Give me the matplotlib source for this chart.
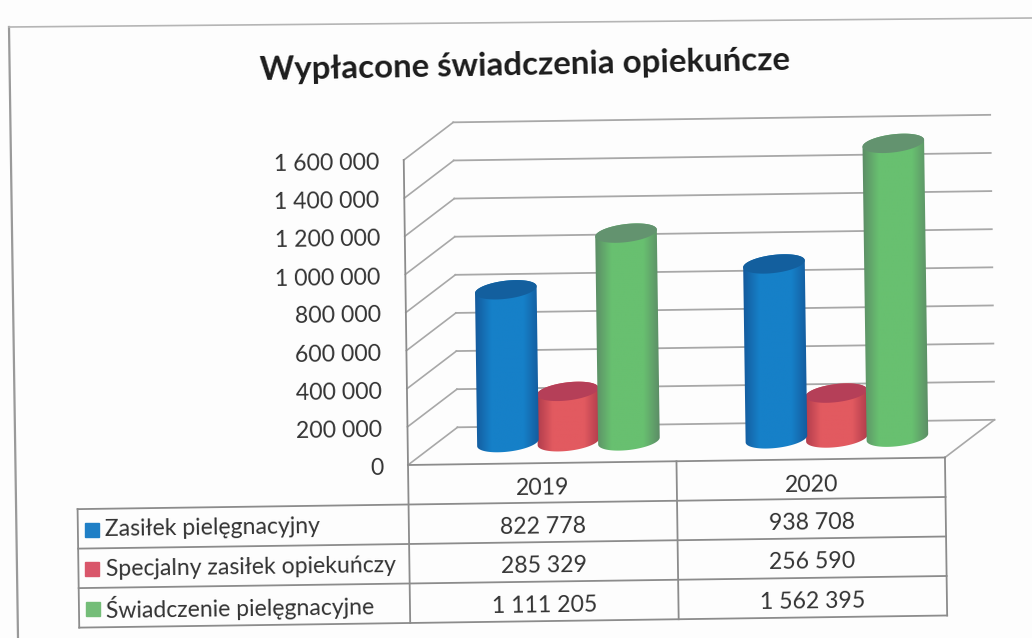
import numpy as np
import matplotlib
matplotlib.use("Agg")
import matplotlib.pyplot as plt
from matplotlib.colors import LinearSegmentedColormap
from matplotlib.patches import PathPatch, Polygon
from matplotlib.path import Path
from matplotlib.transforms import Affine2D, IdentityTransform

title = "Wypłacone świadczenia opiekuńcze"
years = ["2019", "2020"]
series_names = ["Zasiłek pielęgnacyjny", "Specjalny zasiłek opiekuńczy", "Świadczenie pielęgnacyjne"]
zasilek = [822778, 938708]
specjalny = [285329, 256590]
swiadczenie = [1111205, 1562395]
yticks = [0, 200000, 400000, 600000, 800000, 1000000, 1200000, 1400000, 1600000]


def fmt(v):
    return f"{v:,}".replace(",", " ")


W, H = 1032, 638
plt.rcParams["font.family"] = ["Lato", "DejaVu Sans"]
fig = plt.figure(figsize=(W / 100, H / 100), dpi=100, facecolor="#fdfdfd")

fig.add_artist(plt.Line2D([9 / W, 18 / W], [1 - 27 / H, 0], color="#9a9a9a", lw=1.6))
fig.add_artist(plt.Line2D([9 / W, 1], [1 - 27 / H, 1 - 18 / H], color="#b5b5b5", lw=1.2))

ax = fig.add_axes([408 / W, (H - 465) / H, 537 / W, 305 / H])
ax.set_xlim(0, 2)
ax.set_ylim(0, 1600000)
ax.axis("off")

ANGLE = 0.8
rot = Affine2D().rotate_deg_around(408, H - 465, ANGLE)
tf = ax.transData + rot
back = ax.transData + Affine2D().translate(50, 37) + rot
base_tf = ax.transData + Affine2D().translate(26.5, 21) + rot
top_tf = ax.transData + Affine2D().translate(26.5, 17) + rot

GRID = "#a8a8a8"
DARK = "#333333"
TBL = "#8c8c8c"
FS = 16.6

for v in yticks:
    ax.plot([0, 2], [v, v], transform=back, color=GRID, lw=1.3, clip_on=False, zorder=1)
    p0 = tf.transform((0, v))
    p1 = back.transform((0, v))
    ax.plot([p0[0], p1[0]], [p0[1], p1[1]], transform=IdentityTransform(), color=GRID, lw=1.2,
            clip_on=False, zorder=1)
    ax.text(-25 / 268.5, v - 15000, fmt(v), transform=tf, ha="right", va="center", fontsize=FS,
            color=DARK, rotation=ANGLE, rotation_mode="anchor")
ax.plot([0, 0], [0, 1600000], transform=tf, color=TBL, lw=1.3, clip_on=False, zorder=1)
p0 = tf.transform((2, 0))
p1 = back.transform((2, 0))
ax.plot([p0[0], p1[0]], [p0[1], p1[1]], transform=IdentityTransform(), color=GRID, lw=1.2,
        clip_on=False, zorder=1)

BAR_DX = 60.5 / 268.5
BAR_RX = 31
BAR_RY = 9
TILT = np.deg2rad(7)
styles = {
    "blue": dict(edge="#145a9c", body="#1680c8", top="#135f9e"),
    "red": dict(edge="#b03c4c", body="#e25a60", top="#b53f58"),
    "green": dict(edge="#5c8c66", body="#68c070", top="#63936f"),
}


def cylinder(xc, val, st, z):
    bx, by = base_tf.transform((xc, 0))
    tx, ty = top_tf.transform((xc, val))
    t = np.linspace(0, 2 * np.pi, 200)
    ex = BAR_RX * np.cos(t) * np.cos(TILT) - BAR_RY * np.sin(t) * np.sin(TILT)
    ey = BAR_RX * np.cos(t) * np.sin(TILT) + BAR_RY * np.sin(t) * np.cos(TILT)
    i_r = np.argmax(ex)
    i_l = np.argmin(ex)
    t_r = t[i_r]
    t_l = t[i_l] if t[i_l] > t[i_r] else t[i_l] + 2 * np.pi
    t_arc = np.linspace(t_r, t_l, 60)
    ax_x = BAR_RX * np.cos(t_arc) * np.cos(TILT) - BAR_RY * np.sin(t_arc) * np.sin(TILT)
    ax_y = BAR_RX * np.cos(t_arc) * np.sin(TILT) + BAR_RY * np.sin(t_arc) * np.cos(TILT)
    upper = np.column_stack([tx + ax_x, ty + ax_y])
    lower = np.column_stack([bx - ax_x, by - ax_y])
    outline = np.vstack([upper, lower, upper[:1]])
    clip = PathPatch(Path(outline), transform=IdentityTransform(), fc="none", ec="none", clip_on=False)
    ax.add_patch(clip)
    cmap = LinearSegmentedColormap.from_list(
        "c", [st["edge"], st["body"], st["body"], st["body"], st["edge"]])
    grad = np.linspace(0, 1, 128)[None, :]
    x0, x1 = min(bx, tx) - BAR_RX, max(bx, tx) + BAR_RX
    im = ax.imshow(grad, cmap=cmap, aspect="auto", zorder=z, interpolation="bilinear",
                   extent=[x0, x1, by - 30, ty + 30], transform=IdentityTransform())
    im.set_clip_box(fig.bbox)
    im.set_clip_path(clip)
    cap = np.column_stack([tx + ex, ty + ey])
    ax.add_patch(Polygon(cap, closed=True, transform=IdentityTransform(), fc=st["top"], ec="none",
                         zorder=z + 0.1, clip_on=False))


for i in range(2):
    xc = 0.5 + i
    cylinder(xc, specjalny[i], styles["red"], 3)
    cylinder(xc - BAR_DX, zasilek[i], styles["blue"], 4)
    cylinder(xc + BAR_DX, swiadczenie[i], styles["green"], 4)
ax.set_xlim(0, 2)
ax.set_ylim(0, 1600000)

ROW = 39.5 * 1600000 / 305
PX = 1600000 / 305
LEFT = -331 / 268.5
for k in range(1, 5):
    y = -k * ROW
    ax.plot([LEFT, 2], [y, y], transform=tf, color=TBL, lw=1.3, clip_on=False, zorder=2)
ax.plot([0, 2], [0, 0], transform=tf, color=TBL, lw=1.3, clip_on=False, zorder=2)
for x, k0 in [(0, 0), (1, 0), (2, 0), (LEFT, 1)]:
    ax.plot([x, x], [-k0 * ROW, -4 * ROW], transform=tf, color=TBL, lw=1.3, clip_on=False, zorder=2)

for i, yr in enumerate(years):
    ax.text(i + 0.5, -0.64 * ROW, yr, transform=tf, ha="center", va="center", fontsize=FS,
            color=DARK, rotation=ANGLE, rotation_mode="anchor")

rows = [zasilek, specjalny, swiadczenie]
colors = ["#1f7fc6", "#d9566a", "#74bd78"]
for r, (name, vals, c) in enumerate(zip(series_names, rows, colors)):
    yc = -(r + 1.53) * ROW
    ax.text(LEFT + 27 / 268.5, yc, name, transform=tf, ha="left", va="center", fontsize=FS,
            color=DARK, rotation=ANGLE, rotation_mode="anchor")
    ax.plot([LEFT + 14 / 268.5], [yc], transform=tf, marker="s", ms=10, mfc=c, mec=c, ls="none",
            clip_on=False)
    for i, v in enumerate(vals):
        ax.text(i + 0.5, yc - 3 * PX, fmt(v), transform=tf, ha="center", va="center", fontsize=FS,
                color=DARK, rotation=ANGLE, rotation_mode="anchor")

fig.text(525 / W, 1 - 65 / H, title, ha="center", va="center", fontsize=23.8, fontweight="bold",
         color="#1c1c1c", rotation=1.1, rotation_mode="anchor")

fig.savefig("out.png", dpi=100, facecolor=fig.get_facecolor())
